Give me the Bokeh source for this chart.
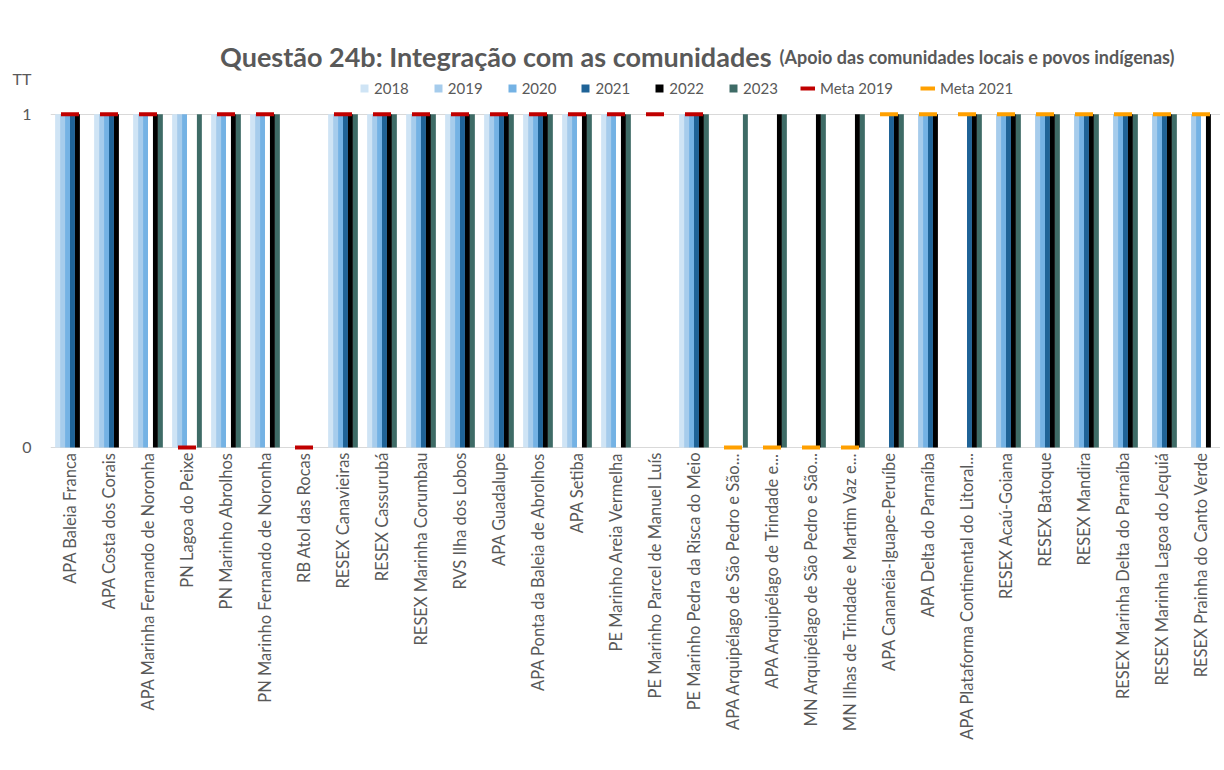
import math
from bokeh.plotting import figure
from bokeh.models import (ColumnDataSource, FactorRange, Range1d, FixedTicker, Label,
                          Legend, LegendItem)
from bokeh.transform import dodge
from bokeh.embed import file_html
from bokeh.resources import INLINE

NaN = float("nan")

categories = [
    "APA Baleia Franca", "APA Costa dos Corais", "APA Marinha Fernando de Noronha",
    "PN Lagoa do Peixe", "PN Marinho Abrolhos", "PN Marinho Fernando de Noronha",
    "RB Atol das Rocas", "RESEX Canavieiras", "RESEX Cassurubá", "RESEX Marinha Corumbau",
    "RVS Ilha dos Lobos", "APA Guadalupe", "APA Ponta da Baleia de Abrolhos", "APA Setiba",
    "PE Marinho Areia Vermelha", "PE Marinho Parcel de Manuel Luís",
    "PE Marinho Pedra da Risca do Meio", "APA Arquipélago de São Pedro e São...",
    "APA Arquipélago de Trindade e...", "MN Arquipélago de São Pedro e São...",
    "MN Ilhas de Trindade e Martim Vaz e...", "APA Cananéia-Iguape-Peruíbe",
    "APA Delta do Parnaíba", "APA Plataforma Continental do Litoral...",
    "RESEX Acaú-Goiana", "RESEX Batoque", "RESEX Mandira", "RESEX Marinha Delta do Parnaíba",
    "RESEX Marinha Lagoa do Jequiá", "RESEX Prainha do Canto Verde",
]

y2018 = [1, 1, 1, 1, 1, 1, 0, 1, 1, 1, 1, 1, 1, 1, 1, 0, 1, 0, 0, 0, 0, 0, 0, 0, 0, 0, 0, 0, 0, 0]
y2019 = [1, 1, 1, 1, 1, 1, 0, 1, 1, 1, 1, 1, 1, 1, 1, 0, 1, 0, 0, 0, 0, 0, 1, 0, 1, 1, 1, 1, 1, 1]
y2020 = [1, 1, 1, 1, 1, 1, 0, 1, 1, 1, 1, 1, 1, 1, 1, 0, 1, 0, 0, 0, 0, 0, 1, 0, 1, 1, 1, 1, 1, 1]
y2021 = [1, 1, 0, 0, 0, 0, 0, 1, 1, 1, 1, 1, 1, 0, 0, 0, 1, 0, 0, 0, 0, 1, 1, 1, 1, 1, 1, 1, 1, 0]
y2022 = [1, 1, 1, 0, 1, 1, 0, 1, 1, 1, 1, 1, 1, 1, 1, 0, 1, 0, 1, 1, 1, 1, 1, 1, 1, 1, 1, 1, 1, 1]
y2023 = [0, 0, 1, 1, 1, 1, 0, 1, 1, 1, 1, 1, 1, 1, 1, 0, 1, 1, 1, 1, 1, 1, 0, 1, 1, 1, 1, 1, 1, 0]
meta2019 = [1, 1, 1, 0, 1, 1, 0, 1, 1, 1, 1, 1, 1, 1, 1, 1, 1] + [NaN] * 13
meta2021 = [NaN] * 17 + [0, 0, 0, 0, 1, 1, 1, 1, 1, 1, 1, 1, 1]

years = ["2018", "2019", "2020", "2021", "2022", "2023"]
year_cols = ["y2018", "y2019", "y2020", "y2021", "y2022", "y2023"]
year_colors = ["#CFE4F5", "#A6CCEC", "#74B2E4", "#1F6397", "#000000", "#3E6B66"]
meta_labels = ["Meta 2019", "Meta 2021"]
meta_colors = ["#C00000", "#FFA000"]

src = ColumnDataSource(dict(cat=categories, y2018=y2018, y2019=y2019, y2020=y2020,
                            y2021=y2021, y2022=y2022, y2023=y2023,
                            m2019=meta2019, m2021=meta2021))

FONT = "Lato"
GREY = "#595959"

W, H = 1220, 754
TOP, BOTTOM, LEFT = 47, 302, 42

p = figure(width=W, height=H, output_backend="svg", toolbar_location=None,
           x_range=FactorRange(*categories, range_padding=0),
           y_range=Range1d(-0.015, 1.2),
           min_border_left=LEFT, min_border_right=0, min_border_top=TOP,
           min_border_bottom=BOTTOM)
p.outline_line_color = None
p.background_fill_color = "white"
p.border_fill_color = "white"

bw = 0.127
renderers = []
for k, (col, colr) in enumerate(zip(year_cols, year_colors)):
    r = p.vbar(x=dodge("cat", (k - 2.5) * bw, range=p.x_range), top=col, width=bw,
               source=src, fill_color=colr, line_color=None)
    renderers.append(r)

p.scatter(x="cat", y="m2019", marker="dash", size=18, line_color=meta_colors[0],
          line_width=4, source=src)
p.scatter(x="cat", y="m2021", marker="dash", size=18, line_color=meta_colors[1],
          line_width=4, source=src)

# axes
p.xaxis.major_label_orientation = math.pi / 2
p.xaxis.axis_line_color = None
p.xaxis.major_tick_line_color = None
p.xaxis.minor_tick_line_color = None
p.xaxis.major_tick_out = 0
p.xaxis.major_label_standoff = 0
p.xaxis.major_label_text_font = FONT
p.xaxis.major_label_text_font_size = "16.5px"
p.xaxis.major_label_text_color = GREY

p.yaxis.ticker = FixedTicker(ticks=[0, 1])
p.yaxis.axis_line_color = None
p.yaxis.major_tick_line_color = None
p.yaxis.minor_tick_line_color = None
p.yaxis.major_tick_out = 0
p.yaxis.major_label_standoff = 19
p.yaxis.major_label_text_font = FONT
p.yaxis.major_label_text_font_size = "16px"
p.yaxis.major_label_text_color = GREY

p.xgrid.grid_line_color = None
p.ygrid.ticker = FixedTicker(ticks=[0, 1])
p.ygrid.grid_line_color = "#D9D9D9"

# titles (screen coords relative to frame, y up from frame bottom)
p.add_layout(Label(x=763 - LEFT, y=396, x_units="screen", y_units="screen",
                   text="Questão 24b: Integração com as comunidades", text_align="right",
                   text_baseline="alphabetic", text_font=FONT, text_font_style="bold",
                   text_font_size="27px", text_color=GREY))
p.add_layout(Label(x=771 - LEFT, y=396, x_units="screen", y_units="screen",
                   text="(Apoio das comunidades locais e povos indígenas)", text_align="left",
                   text_baseline="alphabetic", text_font=FONT, text_font_style="bold",
                   text_font_size="18px", text_color=GREY))
p.add_layout(Label(x=12, y=374, x_units="screen", y_units="screen",
                   text="TT", text_align="left", text_baseline="alphabetic",
                   text_font=FONT, text_font_size="16px", text_color=GREY), "left")

# legends (location = bottom-left corner, frame-relative)
leg1 = Legend(items=[LegendItem(label=y, renderers=[r]) for y, r in zip(years, renderers)],
              orientation="horizontal", location=(351 - LEFT, 355),
              glyph_width=10, glyph_height=10, label_standoff=5, spacing=24,
              padding=0, margin=0, border_line_color=None, background_fill_alpha=0,
              label_text_font=FONT, label_text_font_size="15px", label_text_color=GREY)
dummies = [p.line(x=categories[:2], y=[-5, -5], line_color=c, line_width=4)
           for c in meta_colors]
leg2 = Legend(items=[LegendItem(label=l, renderers=[d]) for l, d in zip(meta_labels, dummies)],
              orientation="horizontal", location=(792 - LEFT, 355),
              glyph_width=15, glyph_height=10, label_standoff=5, spacing=27,
              padding=0, margin=0, border_line_color=None, background_fill_alpha=0,
              label_text_font=FONT, label_text_font_size="15px", label_text_color=GREY)
p.add_layout(leg1)
p.add_layout(leg2)

open("out.html", "w").write(file_html(p, INLINE))
